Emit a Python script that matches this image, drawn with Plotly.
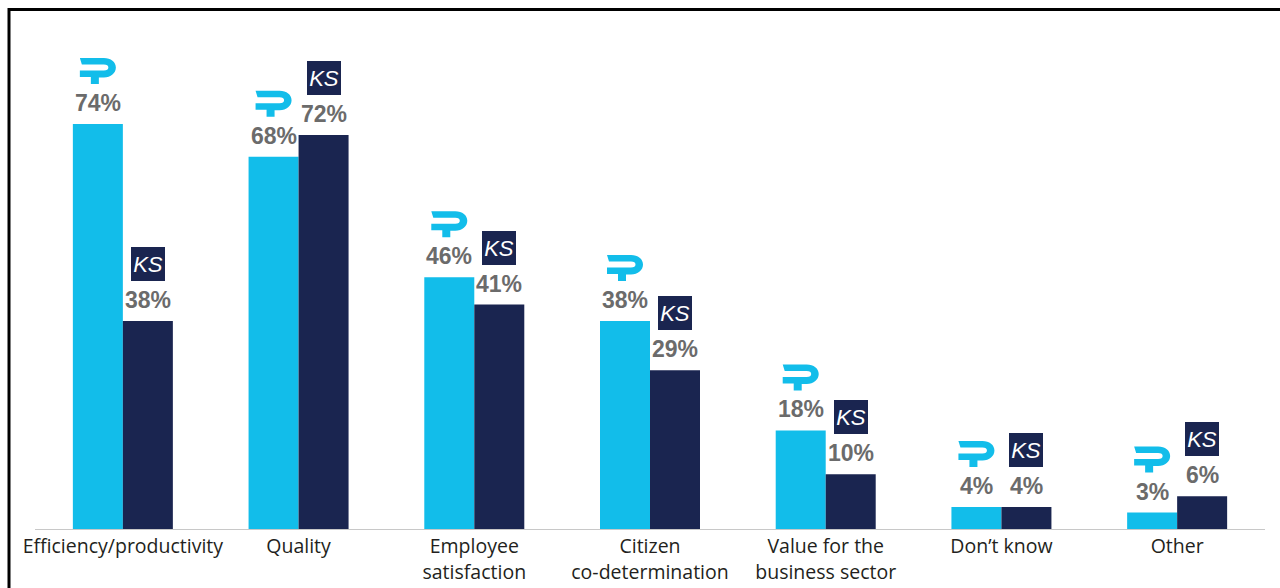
import plotly.graph_objects as go

categories = ["Efficiency/productivity", "Quality", "Employee<br>satisfaction",
              "Citizen<br>co-determination", "Value for the<br>business sector",
              "Don’t know", "Other"]
ps_values = [74, 68, 46, 38, 18, 4, 3]
ks_values = [38, 72, 41, 29, 10, 4, 6]

CYAN = "#12bdea"
NAVY = "#1a2550"
GRAY_TXT = "#6b6b6b"

W, H = 1280, 588
ML, MR, MT, MB = 35, 15, 20, 59
YMAX = 93
idx = list(range(len(categories)))
slot_px = (W - ML - MR) / len(categories)
bw = 50 / slot_px

fig = go.Figure()
fig.add_trace(go.Bar(x=idx, y=ps_values, width=bw, offset=-bw,
                     marker=dict(color=CYAN, line=dict(width=0)), cliponaxis=False))
fig.add_trace(go.Bar(x=idx, y=ks_values, width=bw, offset=0,
                     marker=dict(color=NAVY, line=dict(width=0)), cliponaxis=False))

annotations = []
shapes = []

# P logo path (36x26 box, y-down), converted to pixel offsets (y-up)
logo_pts = [
    ("M", [(0, 0)]), ("L", [(24, 0)]),
    ("C", [(31, 0), (36, 4), (36, 9.5)]),
    ("C", [(36, 15), (31, 19.5), (24, 19.5)]),
    ("L", [(19, 19.5)]), ("L", [(19, 26)]), ("L", [(11, 26)]), ("L", [(11, 19)]),
    ("L", [(0, 19)]), ("L", [(0, 12.5)]), ("L", [(24, 12.5)]),
    ("C", [(27, 12.5), (28.5, 11.5), (28.5, 9.5)]),
    ("C", [(28.5, 7.5), (27, 6.5), (24, 6.5)]),
    ("L", [(2, 6.5)]), ("Z", []),
]


def logo_path(dy):
    parts = []
    for cmd, pts in logo_pts:
        s = cmd
        s += " ".join(f"{x - 18:.1f},{dy + 13 - y:.1f}" for x, y in pts)
        parts.append(s)
    return " ".join(parts)


for i, v in zip(idx, ps_values):
    xc = i - bw / 2
    annotations.append(dict(x=xc, y=v, xref="x", yref="y", text=f"<b>{v}%</b>",
                            showarrow=False, yshift=21, yanchor="middle",
                            font=dict(family="Liberation Sans, Arial", size=23, color=GRAY_TXT)))
    shapes.append(dict(type="path", xref="x", yref="y", xsizemode="pixel", ysizemode="pixel",
                       xanchor=xc, yanchor=v, path=logo_path(53),
                       fillcolor=CYAN, line=dict(width=0), layer="above"))

for i, v in zip(idx, ks_values):
    xc = i + bw / 2
    annotations.append(dict(x=xc, y=v, xref="x", yref="y", text=f"<b>{v}%</b>",
                            showarrow=False, yshift=21, yanchor="middle",
                            font=dict(family="Liberation Sans, Arial", size=23, color=GRAY_TXT)))
    annotations.append(dict(x=xc, y=v, xref="x", yref="y", text="<i>KS</i>",
                            showarrow=False, yshift=57, yanchor="middle", xanchor="center",
                            width=34, height=34, bgcolor=NAVY, borderpad=0, borderwidth=0,
                            font=dict(family="Liberation Sans, Arial", size=22, color="white")))

# frame lines (top and left)
pw = W - ML - MR
ph = H - MT - MB
shapes.append(dict(type="line", xref="paper", yref="paper",
                   x0=(9 - ML) / pw, x1=(W + 5 - ML) / pw,
                   y0=(H - MB - 9.5) / ph, y1=(H - MB - 9.5) / ph,
                   line=dict(color="black", width=3)))
shapes.append(dict(type="line", xref="paper", yref="paper",
                   x0=(9 - ML) / pw, x1=(9 - ML) / pw,
                   y0=(H - MB - 8) / ph, y1=(H - MB - H - 5) / ph,
                   line=dict(color="black", width=3)))

fig.update_layout(
    width=W, height=H,
    margin=dict(l=ML, r=MR, t=MT, b=MB),
    paper_bgcolor="white", plot_bgcolor="white",
    showlegend=False, barmode="overlay",
    annotations=annotations, shapes=shapes,
    xaxis=dict(range=[-0.5, len(categories) - 0.5], tickvals=idx, ticktext=categories,
               showgrid=False, zeroline=False, showline=True, linecolor="#c8c8c8", linewidth=1,
               ticks="", tickfont=dict(family="Open Sans", size=19.5, color="#231f20"),
               automargin=False, fixedrange=True),
    yaxis=dict(range=[0, YMAX], visible=False, showgrid=False, zeroline=False,
               automargin=False, fixedrange=True),
)

fig.write_html("out.html")
